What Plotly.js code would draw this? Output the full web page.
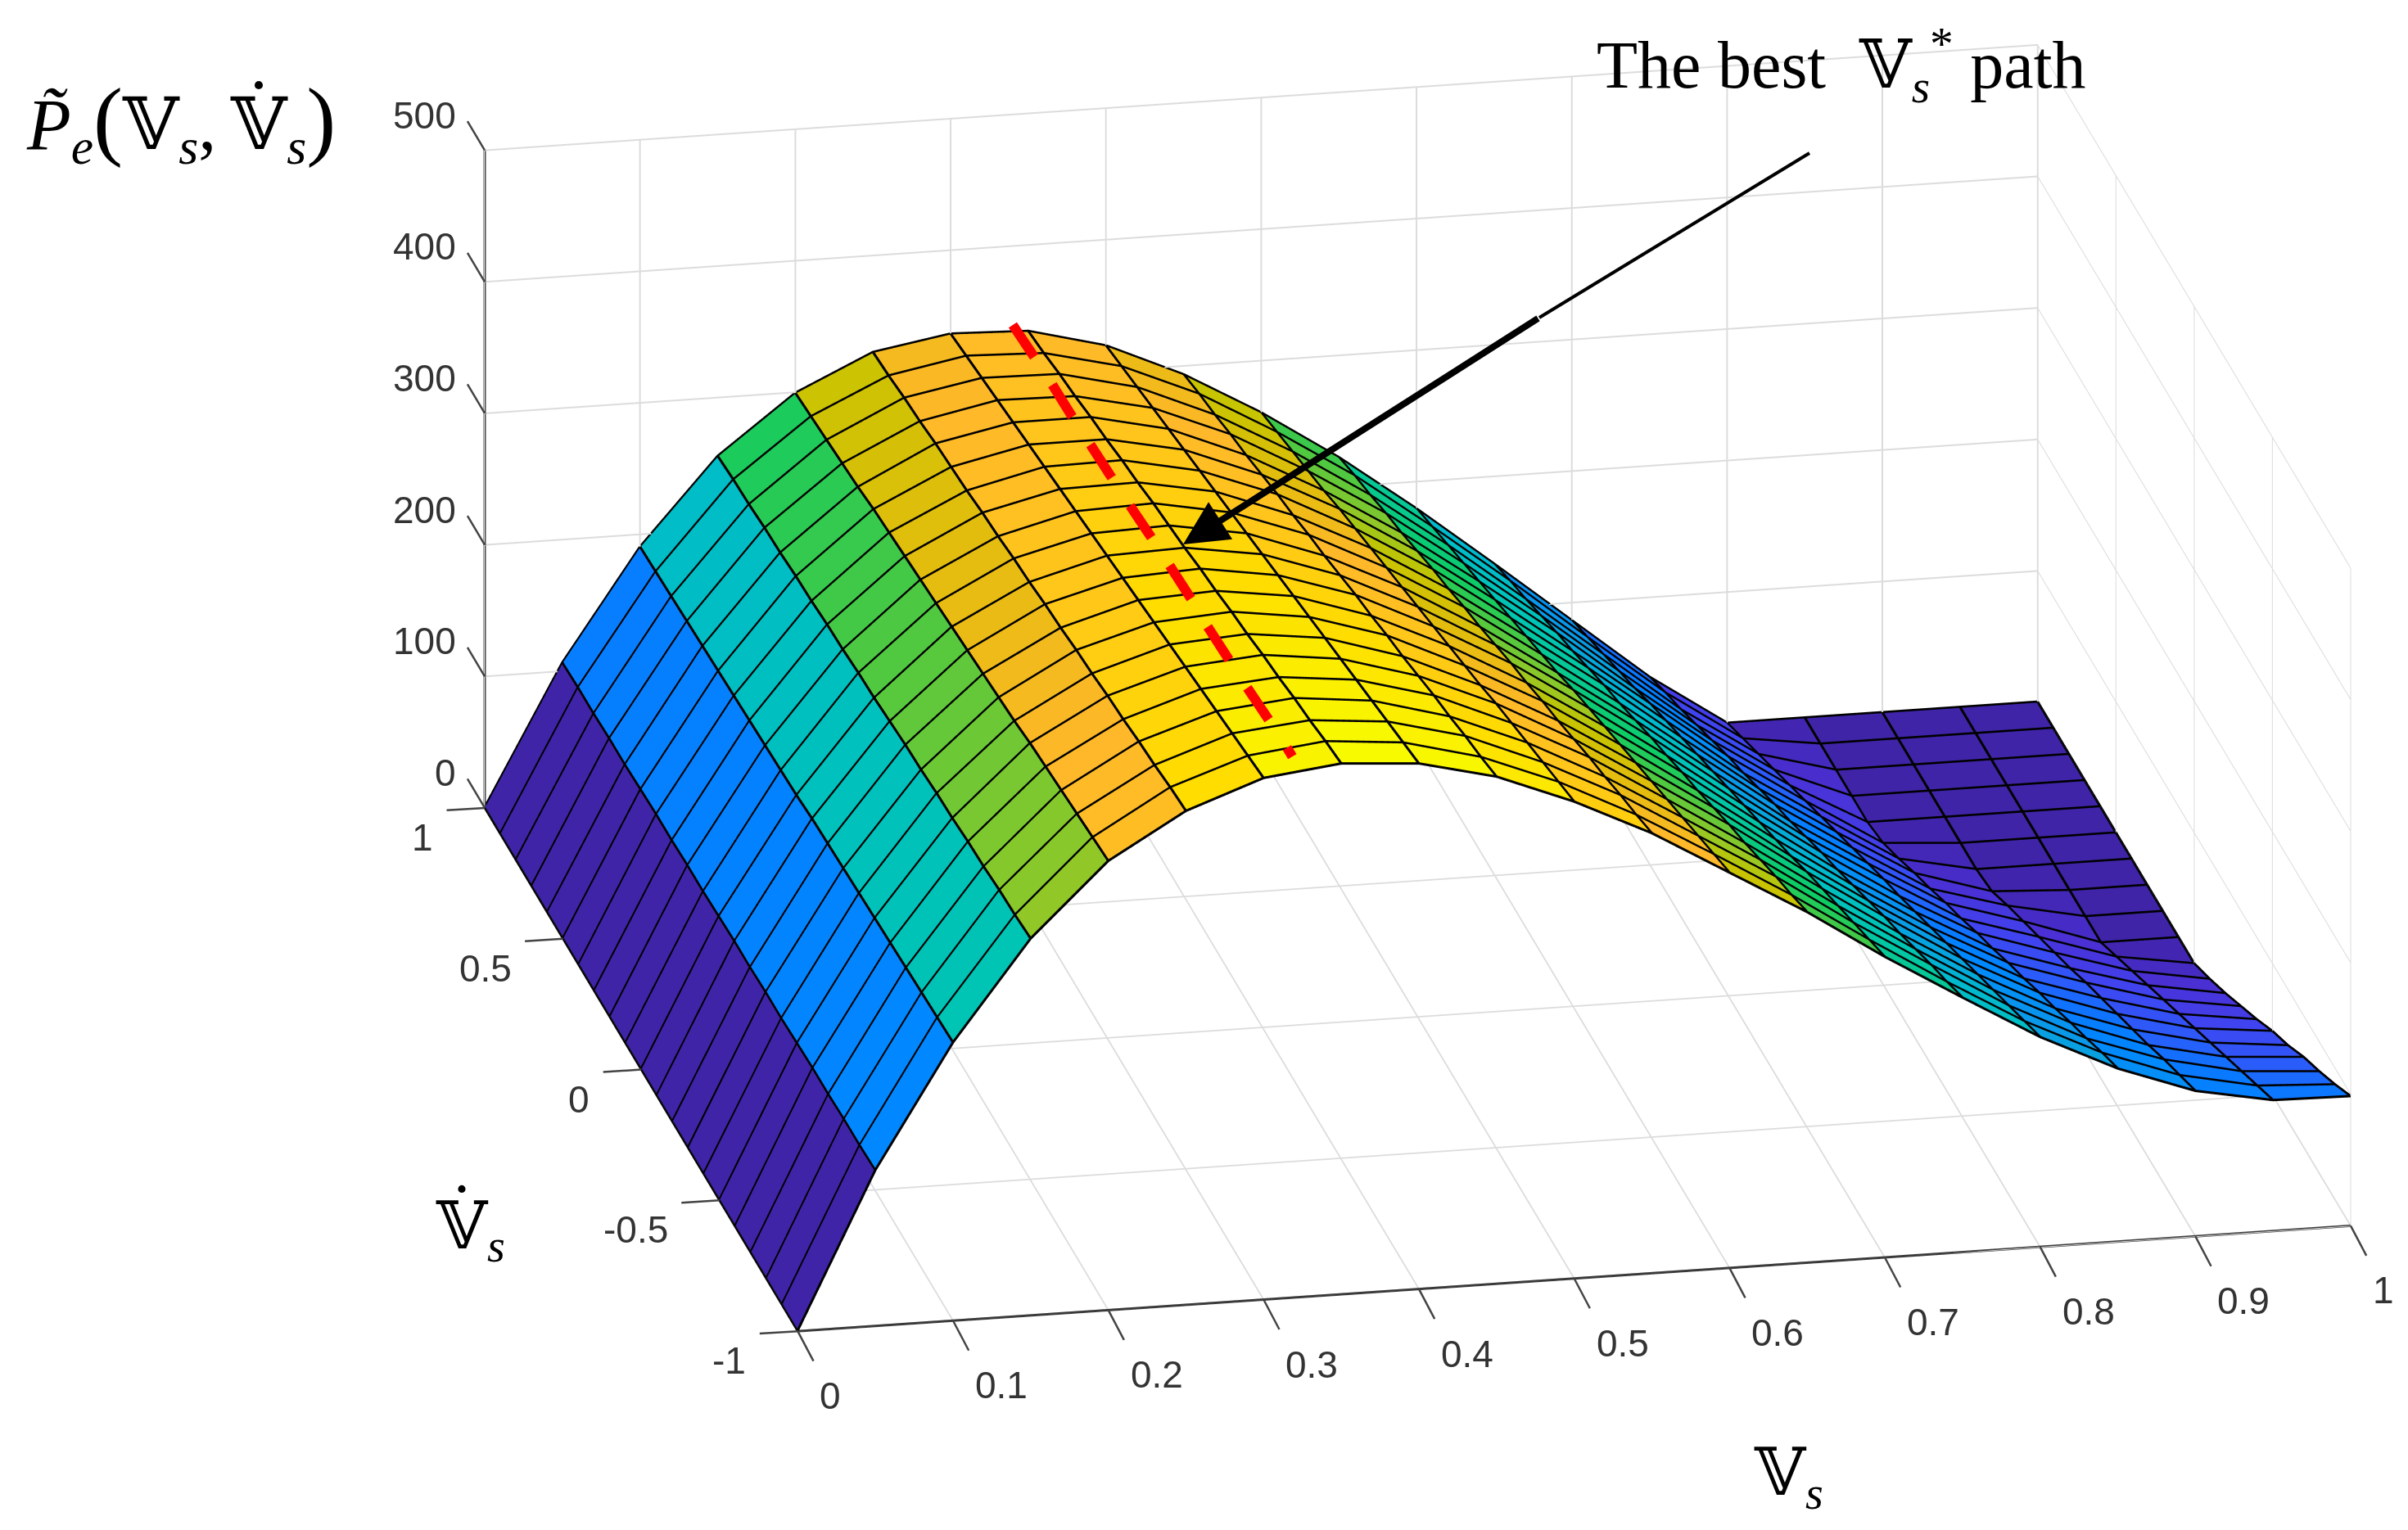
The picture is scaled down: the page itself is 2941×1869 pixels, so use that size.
<!DOCTYPE html>
<html><head><meta charset="utf-8">
<script src="https://cdn.plot.ly/plotly-3.0.1.min.js"></script>
<style>html,body{margin:0;padding:0;background:#fff}#g{width:2941px;height:1869px}</style>
</head><body><div id="g"></div>
<script>
const xGrid=[0,.05,.1,.15,.2,.25,.3,.35,.4,.45,.5,.55,.6,.65,.7,.75,.8,.85,.9,.95,1];
const yGrid=[-1,-.9,-.8,-.7,-.6,-.5,-.4,-.3,-.2,-.1,0,.1,.2,.3,.4,.5,.6,.7,.8,.9,1];
// z per column of x; each list runs from y=-1 to y=1
const zByX=[
[0,0,0,0,0,0,0,0,0,0,0,0,0,0,0,0,0,0,0,0,0],
[118,117,117,116,116,115,114,114,113,113,112,111,111,110,110,109,108,108,107,107,106],
[211,210,209,208,207,206,205,204,203,202,200,199,198,197,196,195,194,193,192,191,190],
[286,284,283,281,280,278,277,275,274,272,270,269,267,266,264,263,261,260,258,257,255],
[341,339,337,335,333,331,328,326,324,322,320,318,316,314,312,310,307,305,303,301,299],
[375,373,370,368,365,363,360,358,355,353,350,348,345,343,340,338,336,333,331,328,326],
[396,393,390,387,384,381,378,375,372,369,366,363,360,357,354,351,348,345,342,339,336],
[403,400,396,393,389,386,382,379,375,372,368,365,362,358,355,351,348,344,341,337,334],
[399,395,391,387,383,379,375,371,367,363,359,355,351,347,343,339,335,331,327,323,319],
[385,380,376,371,367,362,357,353,348,344,339,334,330,325,321,316,311,307,302,298,293],
[362,357,352,347,342,337,331,326,321,316,311,306,301,296,291,286,280,275,270,265,260],
[334,328,323,317,312,306,300,295,289,284,278,272,267,261,256,250,244,239,233,228,222],
[300,294,288,282,276,270,264,258,252,246,240,233,227,221,215,209,203,197,191,185,179],
[266,259,253,246,239,233,226,219,213,206,200,193,186,180,173,166,160,153,146,140,133],
[228,221,214,207,200,193,185,178,171,164,157,150,143,136,129,122,114,107,100,93,86],
[193,185,178,170,162,155,147,139,131,124,116,108,101,93,85,78,70,62,54,47,39],
[159,151,143,135,127,119,111,103,95,87,80,72,64,56,48,40,32,24,16,8,0],
[131,123,114,106,97,89,80,72,63,55,46,38,29,21,12,4,0,0,0,0,0],
[110,102,94,85,77,69,61,53,44,36,28,20,12,3,0,0,0,0,0,0,0],
[99,90,81,72,63,54,45,36,27,18,9,0,0,0,0,0,0,0,0,0,0],
[98,87,77,68,57,48,37,27,17,8,0,0,0,0,0,0,0,0,0,0,0]];
const colorZ=[0,9,27,54,81,100,118,150,190,211,255,270,286,299,320,335,355,375,403];
const colorHex=['#3f24a8','#4226b4','#4a30d4','#4044f0','#2a5cfa','#0a78ff','#0088ff','#0a98e8','#00bcc8','#00c4b4','#0fcc62','#50c840','#90c828','#c8c400','#e6bc10','#ffb82a','#ffc818','#ffdc00','#f8fa00'];
const xTicks=[0,.1,.2,.3,.4,.5,.6,.7,.8,.9,1];
const xTickText=['0','0.1','0.2','0.3','0.4','0.5','0.6','0.7','0.8','0.9','1'];
const yTicks=[-1,-.5,0,.5,1];
const yTickText=['-1','-0.5','0','0.5','1'];
const zTicks=[0,100,200,300,400,500];
const zTickText=['0','100','200','300','400','500'];
// the red dashes of the best path, one pair of ends per dash
const pathX=[.34,.339,null,.338,.336,null,.335,.334,null,.333,.332,null,.331,.33,null,.328,.327,null,.326,.325,null,.324,.3235];
const pathY=[1,.853,null,.727,.58,null,.454,.308,null,.181,.035,null,-.092,-.238,null,-.365,-.511,null,-.638,-.784,null,-.911,-.95];
const pathZ=[340,345,null,349,354,null,358,362,null,366,371,null,375,379,null,383,387,null,391,396,null,400,401];

const nx=xGrid.length, ny=yGrid.length, id=(i,j)=>i*ny+j;
const vx=[],vy=[],vz=[],ti=[],tj=[],tk=[],cell=[];
for(let i=0;i<nx;i++)for(let j=0;j<ny;j++){vx.push(xGrid[i]);vy.push(yGrid[j]);vz.push(zByX[i][j]);}
for(let i=0;i<nx-1;i++)for(let j=0;j<ny-1;j++){
  ti.push(id(i,j),id(i,j));tj.push(id(i+1,j),id(i+1,j+1));tk.push(id(i+1,j+1),id(i,j+1));
  cell.push(zByX[i][j],zByX[i][j]);
}
const cmax=colorZ[colorZ.length-1];
const traces=[{type:'mesh3d',x:vx,y:vy,z:vz,i:ti,j:tj,k:tk,intensity:cell,intensitymode:'cell',
  colorscale:colorZ.map((z,n)=>[z/cmax,colorHex[n]]),cmin:0,cmax:cmax,showscale:false,flatshading:true,hoverinfo:'skip',
  lighting:{ambient:1,diffuse:0,specular:0,fresnel:0,roughness:1}}];
const lineStyle={color:'#000',width:6};
const lx=[],ly=[],lz=[];
for(let i=0;i<nx;i++){for(let j=0;j<ny;j++){lx.push(xGrid[i]);ly.push(yGrid[j]);lz.push(zByX[i][j]+.6);}lx.push(null);ly.push(null);lz.push(null);}
for(let j=0;j<ny;j++){for(let i=0;i<nx;i++){lx.push(xGrid[i]);ly.push(yGrid[j]);lz.push(zByX[i][j]+.6);}lx.push(null);ly.push(null);lz.push(null);}
traces.push({type:'scatter3d',mode:'lines',x:lx,y:ly,z:lz,line:lineStyle,hoverinfo:'skip',connectgaps:false});
traces.push({type:'scatter3d',mode:'lines',x:pathX,y:pathY,z:pathZ,line:{color:'#ff0000',width:24},hoverinfo:'skip',connectgaps:false});
traces.push({type:'scatter3d',mode:'lines',x:[0,0],y:[1,1],z:[0,500],line:{color:'#444',width:6},hoverinfo:'skip'});

const W=2941,H=1869;
const tickFont={family:'Liberation Sans, Arial, sans-serif',size:46,color:'#333'};
const tick=(x,y,z,ax,ay)=>({x:x,y:y,z:z,text:'',showarrow:true,arrowhead:0,arrowwidth:2.5,arrowcolor:'#444',ax:ax,ay:ay,standoff:0,startstandoff:0});
const sceneAnn=[];
xTicks.forEach((v,n)=>{
  sceneAnn.push(tick(v,-1,0,20,38));
  sceneAnn.push({x:v,y:-1,z:0,text:xTickText[n],showarrow:false,xanchor:'left',yanchor:'middle',xshift:25,yshift:-79,font:tickFont});
});
yTicks.forEach((v,n)=>{
  sceneAnn.push(tick(0,v,0,-48,3));
  sceneAnn.push({x:0,y:v,z:0,text:yTickText[n],showarrow:false,xanchor:'right',yanchor:'middle',xshift:-61,yshift:-36,font:tickFont});
});
zTicks.forEach((v,n)=>{
  sceneAnn.push(tick(0,1,v,-22,-37));
  sceneAnn.push({x:0,y:1,z:v,text:zTickText[n],showarrow:false,xanchor:'right',yanchor:'middle',xshift:-33,yshift:43,font:tickFont});
});

const P=(px,py,text,size,xa)=>({xref:'paper',yref:'paper',x:px/W,y:1-py/H,text:text,showarrow:false,xanchor:xa||'left',yanchor:'middle',
  font:{family:'Liberation Serif, DejaVu Serif, serif',size:size,color:'#000'}});
const ann=[
 P(1948,80,'The best  𝕍<sub><i>s</i></sub><sup>*</sup> path',82),
 P(30,150,'<i>P̃</i><sub><i>e</i></sub><span style="font-size:108px">(</span>𝕍<sub><i>s</i></sub>,\u2009𝕍̇<sub><i>s</i></sub><span style="font-size:108px">)</span>',88),
 P(530,1500,'𝕍̇<sub><i>s</i></sub>',80),
 P(2140,1805,'𝕍<sub><i>s</i></sub>',80),
 {xref:'paper',yref:'paper',axref:'paper',ayref:'paper',x:1445/W,y:1-665/H,ax:1880/W,ay:1-388/H,text:'',showarrow:true,arrowhead:2,arrowsize:1.35,arrowwidth:8,arrowcolor:'#000'}
];
const shapes=[{type:'line',xref:'paper',yref:'paper',x0:2210/W,y0:1-187/H,x1:1880/W,y1:1-388/H,line:{color:'#000',width:4}}];
const grid={showgrid:true,gridcolor:'#dcdcdc',gridwidth:4,showbackground:false,zeroline:false,showspikes:false,
  showline:true,linecolor:'#3a3a3a',linewidth:6,ticks:'',showticklabels:false,title:{text:''},autorange:false};
const R=2, S=2.302;
const layout={paper_bgcolor:'#fff',margin:{l:0,r:0,t:0,b:0},showlegend:false,width:W,height:H,annotations:ann,shapes:shapes,
 scene:{domain:{x:[.1775,1],y:[.1006,1]},aspectmode:'manual',aspectratio:{x:S,y:S,z:.441*S},
  camera:{projection:{type:'orthographic'},up:{x:0,y:0,z:1},center:{x:0,y:0,z:0},eye:{x:-.186*R,y:-.9229*R,z:.337*R}},
  xaxis:Object.assign({},grid,{range:[0,1],tickvals:xTicks}),
  yaxis:Object.assign({},grid,{range:[-1,1],tickvals:yTicks}),
  zaxis:Object.assign({},grid,{range:[0,500],tickvals:zTicks,showline:false}),
  annotations:sceneAnn}};
Plotly.newPlot('g',traces,layout,{displayModeBar:false});
</script></body></html>
